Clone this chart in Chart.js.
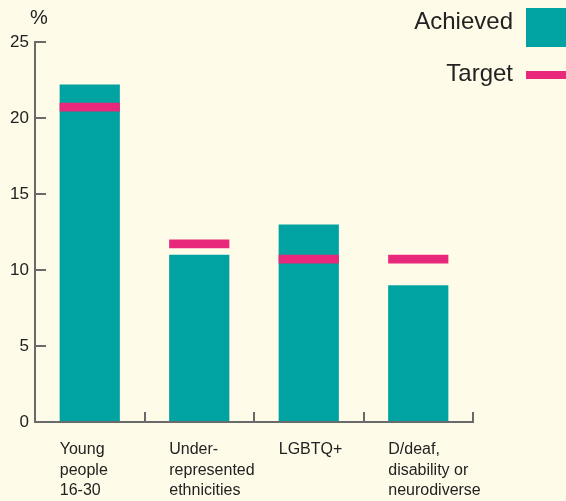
<!DOCTYPE html>
<html>
<head>
<meta charset="utf-8">
<script src="https://cdn.jsdelivr.net/npm/chart.js@4/dist/chart.umd.min.js"></script>
<style>
  html, body { margin: 0; padding: 0; background: #fffbe9; }
  #wrap { position: relative; width: 566px; height: 501px; overflow: hidden; background: #fffbe9; font-family: "Liberation Sans", Arial, sans-serif; color: #222; }
  #c { position: absolute; left: 0; top: 0; }
  .txt { position: absolute; white-space: nowrap; }
  .sw { position: absolute; }
</style>
</head>
<body>
<div id="wrap">
  <canvas id="c" width="566" height="501"></canvas>
  <div class="txt" style="left:30px; top:6px; font-size:20px;">%</div>
  <div class="txt" style="right:53px; top:7px; font-size:24px; text-align:right;">Achieved</div>
  <div class="sw" style="left:526px; top:8px; width:40px; height:39px; background:#00a3a1;"></div>
  <div class="txt" style="right:53px; top:59px; font-size:24px; text-align:right;">Target</div>
  <div class="sw" style="left:526px; top:71px; width:40px; height:8px; background:#e8287a;"></div>
</div>
<script>
const categories = [
  ['Young', 'people', '16-30'],
  ['Under-', 'represented', 'ethnicities'],
  ['LGBTQ+'],
  ['D/deaf,', 'disability or', 'neurodiverse']
];
const achieved = [22.2, 11, 13, 9];
const target = [21, 12, 11, 11];
const yTicks = [0, 5, 10, 15, 20, 25];

const TEAL = '#00a3a1';
const PINK = '#e8287a';
const AXIS = '#6a6a6a';
const TARGET_BAND = 0.57; // thickness of the target marker in axis units

new Chart(document.getElementById('c'), {
  type: 'bar',
  data: {
    labels: categories,
    datasets: [
      {
        label: 'Target',
        data: target.map(t => [t - TARGET_BAND, t]),
        backgroundColor: PINK,
        grouped: false,
        order: 0,
        barPercentage: 0.55,
        categoryPercentage: 1.0
      },
      {
        label: 'Achieved',
        data: achieved,
        backgroundColor: TEAL,
        grouped: false,
        order: 1,
        barPercentage: 0.55,
        categoryPercentage: 1.0
      }
    ]
  },
  options: {
    responsive: false,
    animation: false,
    devicePixelRatio: 1,
    layout: { padding: { top: 42, right: 93, left: 0, bottom: 0 } },
    plugins: { legend: { display: false }, tooltip: { enabled: false } },
    scales: {
      x: {
        afterFit: s => { s.height = 79; },
        border: { color: AXIS, width: 2 },
        grid: { offset: true, drawOnChartArea: false, drawTicks: true, tickLength: -10, color: AXIS, lineWidth: 2 },
        ticks: {
          align: 'start',
          labelOffset: -30,
          padding: 27,
          color: '#222',
          font: { family: '"Liberation Sans", Arial, sans-serif', size: 16, lineHeight: 1.3 }
        }
      },
      y: {
        min: 0,
        max: 25,
        afterFit: s => { s.width = 35; },
        afterBuildTicks: s => { s.ticks = yTicks.map(v => ({ value: v })); },
        border: { color: AXIS, width: 2 },
        grid: { drawOnChartArea: false, drawTicks: true, tickLength: -11, color: AXIS, lineWidth: 2 },
        ticks: {
          padding: 17,
          color: '#222',
          font: { family: '"Liberation Sans", Arial, sans-serif', size: 17 }
        }
      }
    }
  }
});
</script>
</body>
</html>
